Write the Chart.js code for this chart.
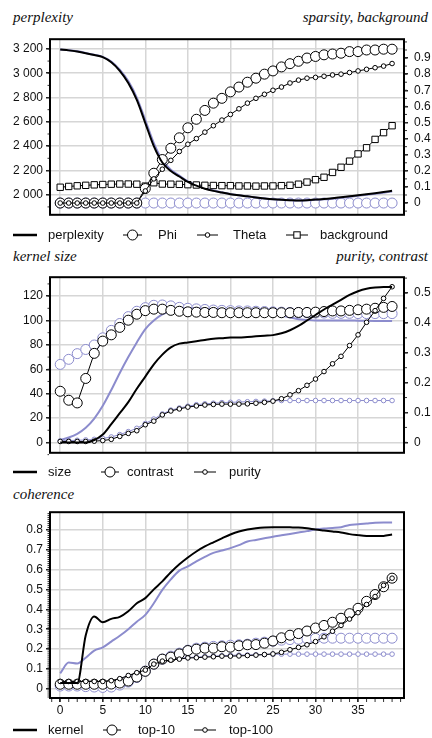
<!DOCTYPE html>
<html>
<head>
<meta charset="utf-8">
<script src="https://cdn.jsdelivr.net/npm/chart.js@4.4.0/dist/chart.umd.min.js"></script>
<style>
body { margin: 0; background: #fff; }
#page { position: relative; width: 432px; height: 738px; overflow: hidden; font-family: 'Liberation Sans', Arial, sans-serif; }
canvas { position: absolute; left: 0; }
.titre { position: absolute; font-family: 'Liberation Serif', 'Times New Roman', serif; font-style: italic; font-size: 15px; line-height: 15px; color: #111; white-space: nowrap; }
.leg { position: absolute; font-size: 13px; line-height: 14px; color: #111; white-space: nowrap; }
svg { position: absolute; overflow: visible; }
</style>
</head>
<body>
<div id="page">
  <canvas id="c1" width="432" height="202" style="top:26px"></canvas>
  <canvas id="c2" width="432" height="202" style="top:264px"></canvas>
  <canvas id="c3" width="432" height="222" style="top:502px"></canvas>
  <div class="titre" style="left:13px; top:9.5px">perplexity</div>
  <div class="titre" style="right:4px; top:9.5px">sparsity, background</div>
  <div class="titre" style="left:13px; top:249px">kernel size</div>
  <div class="titre" style="right:4px; top:249px">purity, contrast</div>
  <div class="titre" style="left:13px; top:486.5px">coherence</div>
</div>
<script>
// abscisses (itérations)
const pas = [0, 1, 2, 3, 4, 5, 6, 7, 8, 9, 10, 11, 12, 13, 14, 15, 16, 17, 18, 19,
             20, 21, 22, 23, 24, 25, 26, 27, 28, 29, 30, 31, 32, 33, 34, 35, 36, 37, 38, 39];
const ticksPas = [0, 5, 10, 15, 20, 25, 30, 35];

// panneau 1 : perplexity / sparsity, background
const perplexite = [3195, 3188, 3178, 3165, 3150, 3132, 3090, 3020, 2920, 2780,
                    2590, 2400, 2265, 2195, 2150, 2105, 2075, 2050, 2032, 2018,
                    2005, 1995, 1987, 1978, 1970, 1963, 1958, 1955, 1953, 1955,
                    1960, 1965, 1972, 1980, 1988, 1996, 2005, 2013, 2022, 2032];
const perplexiteRef = [3195, 3189, 3180, 3167, 3152, 3135, 3097, 3030, 2935, 2800,
                       2615, 2425, 2285, 2205, 2157, 2110, 2080, 2054, 2035, 2020,
                       2006, 1996, 1987, 1978, 1970, 1963, 1958, 1955, 1953, 1954,
                       1958, 1962, 1968, 1975, 1983, 1991, 2000, 2008, 2017, 2027];
const phi = [0, 0, 0, 0, 0, 0, 0, 0, 0, 0,
             0.09, 0.185, 0.27, 0.34, 0.405, 0.467, 0.52, 0.575, 0.62, 0.65,
             0.69, 0.72, 0.75, 0.775, 0.8, 0.82, 0.845, 0.865, 0.88, 0.9,
             0.91, 0.92, 0.925, 0.93, 0.94, 0.94, 0.95, 0.95, 0.955, 0.955];
const phiRef = [0, 0, 0, 0, 0, 0, 0, 0, 0, 0,
                0, 0, 0, 0, 0, 0, 0, 0, 0, 0,
                0, 0, 0, 0, 0, 0, 0, 0, 0, 0,
                0, 0, 0, 0, 0, 0, 0, 0, 0, 0];
const theta = [0, 0, 0, 0, 0, 0, 0, 0, 0, 0,
               0.075, 0.15, 0.21, 0.265, 0.32, 0.365, 0.4, 0.44, 0.48, 0.515,
               0.55, 0.585, 0.62, 0.65, 0.675, 0.7, 0.72, 0.745, 0.763, 0.775,
               0.78, 0.787, 0.795, 0.8, 0.81, 0.82, 0.83, 0.84, 0.85, 0.866];
const fond = [0.098, 0.103, 0.107, 0.11, 0.113, 0.115, 0.117, 0.118, 0.118, 0.117,
              0.105, 0.126, 0.118, 0.117, 0.116, 0.114, 0.112, 0.11, 0.109, 0.108,
              0.108, 0.106, 0.106, 0.105, 0.106, 0.106, 0.108, 0.11, 0.117, 0.13,
              0.145, 0.16, 0.19, 0.222, 0.26, 0.305, 0.343, 0.395, 0.437, 0.48];
const ticksPerplexite = [2000, 2200, 2400, 2600, 2800, 3000, 3200];
const ticksSparsite = [0, 0.1, 0.2, 0.3, 0.4, 0.5, 0.6, 0.7, 0.8, 0.9];

// panneau 2 : kernel size / purity, contrast
const taille = [0, 0, 0, 0, 2, 6.5, 15, 24, 33, 44,
                54, 64, 72, 78, 81, 82, 83, 84, 85, 85.5,
                86, 86, 86.5, 87, 87.5, 88, 89.5, 92, 95.5, 100,
                104.5, 109, 113, 117, 121, 124, 126, 127, 127.5, 127.5];
const tailleRef = [2, 4, 7, 12, 19.5, 30, 43, 57, 70, 82,
                   93, 100, 105, 108, 109.5, 110, 110, 109.5, 109.5, 109,
                   108.5, 108, 107, 106.5, 106, 105, 104, 102.5, 101, 100.5,
                   100, 100, 100, 100, 100, 99.8, 99.7, 99.6, 99.5, 99.5];
const contraste = [0.171, 0.141, 0.132, 0.214, 0.298, 0.339, 0.36, 0.385, 0.409, 0.429,
                   0.441, 0.446, 0.446, 0.442, 0.439, 0.437, 0.436, 0.435, 0.435, 0.434,
                   0.434, 0.434, 0.434, 0.434, 0.434, 0.434, 0.434, 0.434, 0.435, 0.435,
                   0.436, 0.438, 0.44, 0.44, 0.442, 0.444, 0.446, 0.449, 0.452, 0.455];
const contrasteRef = [0.261, 0.278, 0.297, 0.311, 0.326, 0.35, 0.375, 0.398, 0.421, 0.439,
                      0.451, 0.459, 0.46, 0.457, 0.452, 0.449, 0.447, 0.445, 0.443, 0.442,
                      0.441, 0.44, 0.44, 0.439, 0.438, 0.437, 0.436, 0.435, 0.434, 0.434,
                      0.433, 0.433, 0.432, 0.432, 0.432, 0.431, 0.431, 0.431, 0.431, 0.431];
const purete = [0.003, 0.003, 0.003, 0.003, 0.004, 0.006, 0.01, 0.02, 0.03, 0.039,
                0.059, 0.071, 0.092, 0.105, 0.112, 0.118, 0.122, 0.125, 0.127, 0.128,
                0.128, 0.128, 0.129, 0.131, 0.134, 0.138, 0.146, 0.159, 0.173, 0.191,
                0.212, 0.237, 0.263, 0.288, 0.324, 0.36, 0.402, 0.441, 0.482, 0.521];
const pureteRef = [0.005, 0.006, 0.007, 0.008, 0.01, 0.013, 0.018, 0.026, 0.036, 0.047,
                   0.063, 0.078, 0.095, 0.108, 0.115, 0.121, 0.126, 0.129, 0.131, 0.133,
                   0.134, 0.135, 0.136, 0.137, 0.138, 0.139, 0.14, 0.14, 0.14, 0.14,
                   0.14, 0.14, 0.14, 0.14, 0.14, 0.14, 0.14, 0.14, 0.14, 0.14];
const ticksTaille = [0, 20, 40, 60, 80, 100, 120];
const ticksPurete = [0, 0.1, 0.2, 0.3, 0.4, 0.5];

// panneau 3 : coherence
const noyau = [0.03, 0.03, 0.03, 0.27, 0.364, 0.335, 0.352, 0.362, 0.39, 0.43,
               0.456, 0.5, 0.54, 0.586, 0.626, 0.66, 0.69, 0.715, 0.736, 0.756,
               0.775, 0.79, 0.8, 0.806, 0.81, 0.812, 0.812, 0.811, 0.81, 0.806,
               0.8, 0.795, 0.79, 0.785, 0.777, 0.772, 0.768, 0.767, 0.768, 0.775];
const noyauRef = [0.079, 0.133, 0.128, 0.157, 0.193, 0.209, 0.238, 0.267, 0.3, 0.338,
                  0.372, 0.43, 0.497, 0.55, 0.594, 0.615, 0.64, 0.663, 0.683, 0.695,
                  0.707, 0.722, 0.74, 0.748, 0.756, 0.764, 0.771, 0.778, 0.785, 0.792,
                  0.8, 0.805, 0.808, 0.812, 0.823, 0.826, 0.83, 0.834, 0.835, 0.835];
const top10 = [0.024, 0.024, 0.024, 0.024, 0.024, 0.024, 0.025, 0.03, 0.04, 0.06,
               0.089, 0.125, 0.15, 0.16, 0.176, 0.193, 0.2, 0.205, 0.205, 0.212,
               0.21, 0.217, 0.222, 0.223, 0.23, 0.241, 0.257, 0.27, 0.278, 0.291,
               0.306, 0.319, 0.335, 0.355, 0.378, 0.405, 0.44, 0.474, 0.513, 0.556];
const top10Ref = [0.015, 0.015, 0.015, 0.012, 0.01, 0.008, 0.01, 0.02, 0.035, 0.058,
                  0.09, 0.125, 0.15, 0.165, 0.18, 0.195, 0.205, 0.21, 0.214, 0.217,
                  0.22, 0.222, 0.225, 0.23, 0.235, 0.24, 0.245, 0.248, 0.25, 0.252,
                  0.254, 0.255, 0.255, 0.255, 0.255, 0.255, 0.255, 0.255, 0.255, 0.255];
const top100 = [0.038, 0.038, 0.038, 0.038, 0.038, 0.038, 0.042, 0.052, 0.068, 0.082,
                0.095, 0.125, 0.14, 0.145, 0.15, 0.156, 0.157, 0.16, 0.162, 0.165,
                0.165, 0.166, 0.168, 0.17, 0.173, 0.176, 0.184, 0.197, 0.209, 0.222,
                0.238, 0.262, 0.29, 0.319, 0.351, 0.383, 0.424, 0.464, 0.52, 0.556];
const top100Ref = [0.036, 0.036, 0.036, 0.036, 0.036, 0.037, 0.04, 0.05, 0.066, 0.08,
                   0.095, 0.125, 0.14, 0.148, 0.153, 0.158, 0.16, 0.163, 0.165, 0.167,
                   0.169, 0.17, 0.171, 0.172, 0.173, 0.175, 0.175, 0.175, 0.175, 0.175,
                   0.175, 0.175, 0.175, 0.175, 0.175, 0.175, 0.175, 0.175, 0.175, 0.175];
const ticksCoherence = [0, 0.1, 0.2, 0.3, 0.4, 0.5, 0.6, 0.7, 0.8];

const NOIR = '#000';
const VIOLET = 'rgb(140,140,205)';
const GRILLE = '#d6d6d6';
const POLICE = { family: "'Liberation Sans', Arial, sans-serif", size: 12 };

function points(valeurs) {
    return pas.map((x, i) => ({ x: x, y: valeurs[i] }));
}

function serieLigne(valeurs, couleur, axe, ordre) {
    return {
        data: points(valeurs), yAxisID: axe, order: ordre,
        borderColor: couleur, borderWidth: 2, pointRadius: 0,
        cubicInterpolationMode: 'monotone', fill: false
    };
}

function serieMarque(valeurs, couleur, axe, style, rayon, ordre) {
    return {
        data: points(valeurs), yAxisID: axe, order: ordre,
        borderColor: couleur, borderWidth: 1, fill: false,
        pointStyle: style, pointRadius: rayon,
        pointBorderColor: couleur, pointBackgroundColor: '#fff', pointBorderWidth: 1
    };
}

function milliers(v) {
    return String(v).replace(/\B(?=(\d{3})+$)/g, ' ');
}

function axeX(etiquettes) {
    return {
        type: 'linear', min: -1.2, max: 40.4,
        afterBuildTicks: a => { a.ticks = ticksPas.map(v => ({ value: v })); },
        afterFit: a => { a.height = etiquettes ? 26 : 5; },
        grid: { color: GRILLE, lineWidth: 1.5, drawTicks: etiquettes, tickLength: 4, tickColor: '#222' },
        border: { display: false },
        ticks: { display: etiquettes, padding: 1, font: POLICE, color: '#111', maxRotation: 0 }
    };
}

function axeY(position, min, max, valeurs, format) {
    const gauche = position === 'left';
    return {
        type: 'linear', position: position, min: min, max: max,
        afterBuildTicks: a => { a.ticks = valeurs.map(v => ({ value: v })); },
        afterFit: a => { a.width = gauche ? 50 : 28; },
        grid: { color: GRILLE, lineWidth: 1.5, drawOnChartArea: gauche, tickLength: 4, tickColor: '#222' },
        border: { display: false },
        ticks: { padding: gauche ? 3 : 6, font: POLICE, color: '#111', callback: format || (v => String(v)) }
    };
}

// petites graduations et cadre
const petitesGraduations = {
    id: 'petitesGraduations',
    afterDraw(chart, args, opts) {
        const ctx = chart.ctx;
        const zone = chart.chartArea;
        ctx.save();
        ctx.fillStyle = '#333';
        (opts.liste || []).forEach(g => {
            const s = chart.scales[g.axe];
            const n = Math.round((g.fin - g.debut) / g.pas);
            for (let k = 0; k <= n; k++) {
                const p = s.getPixelForValue(g.debut + k * g.pas);
                if (g.axe === 'x') ctx.fillRect(p - 0.5, zone.bottom + 1, 1, g.long);
                else if (s.position === 'left') ctx.fillRect(zone.left - 1 - g.long, p - 0.5, g.long, 1);
                else ctx.fillRect(zone.right + 1, p - 0.5, g.long, 1);
            }
        });
        ctx.restore();
    }
};

const cadre = {
    id: 'cadre',
    afterDatasetsDraw(chart) {
        const { left, top, right, bottom } = chart.chartArea;
        const ctx = chart.ctx;
        ctx.save();
        ctx.strokeStyle = '#000';
        ctx.lineWidth = 2;
        ctx.strokeRect(left, top, right - left, bottom - top);
        ctx.restore();
    }
};

Chart.register(petitesGraduations, cadre);

function options(scales, graduations, droite) {
    return {
        responsive: false, animation: false, devicePixelRatio: 1,
        layout: { autoPadding: false, padding: { top: 4, left: 0, right: droite, bottom: 0 } },
        plugins: { legend: { display: false }, tooltip: { enabled: false }, petitesGraduations: { liste: graduations } },
        scales: scales
    };
}

new Chart(document.getElementById('c1'), {
    type: 'line',
    data: {
        datasets: [
            serieLigne(perplexite, NOIR, 'y', 0),
            serieMarque(theta, NOIR, 'y1', 'circle', 2.3, 1),
            serieMarque(phi, NOIR, 'y1', 'circle', 5, 2),
            serieMarque(fond, NOIR, 'y1', 'rect', 4.5, 3),
            serieLigne(perplexiteRef, VIOLET, 'y', 10),
            serieMarque(phiRef, VIOLET, 'y1', 'circle', 5, 11)
        ]
    },
    options: options({
        x: axeX(false),
        y: axeY('left', 1835, 3280, ticksPerplexite, milliers),
        y1: axeY('right', -0.073, 1.017, ticksSparsite)
    }, [
        { axe: 'y', debut: 1900, fin: 3200, pas: 100, long: 1.5 },
        { axe: 'y1', debut: -0.05, fin: 1, pas: 0.05, long: 2 }
    ], 0)
});

new Chart(document.getElementById('c2'), {
    type: 'line',
    data: {
        datasets: [
            serieLigne(taille, NOIR, 'y', 0),
            serieMarque(purete, NOIR, 'y1', 'circle', 2.3, 1),
            serieMarque(contraste, NOIR, 'y1', 'circle', 5, 2),
            serieLigne(tailleRef, VIOLET, 'y', 10),
            serieMarque(pureteRef, VIOLET, 'y1', 'circle', 2.3, 11),
            serieMarque(contrasteRef, VIOLET, 'y1', 'circle', 5, 12)
        ]
    },
    options: options({
        x: axeX(false),
        y: axeY('left', -8.5, 135.5, ticksTaille),
        y1: axeY('right', -0.035, 0.553, ticksPurete)
    }, [
        { axe: 'y', debut: -10, fin: 130, pas: 10, long: 1.5 },
        { axe: 'y1', debut: 0, fin: 0.55, pas: 0.05, long: 2 }
    ], 0)
});

new Chart(document.getElementById('c3'), {
    type: 'line',
    data: {
        datasets: [
            serieLigne(noyau, NOIR, 'y', 0),
            serieMarque(top100, NOIR, 'y', 'circle', 2.3, 1),
            serieMarque(top10, NOIR, 'y', 'circle', 5, 2),
            serieLigne(noyauRef, VIOLET, 'y', 10),
            serieMarque(top100Ref, VIOLET, 'y', 'circle', 2.3, 11),
            serieMarque(top10Ref, VIOLET, 'y', 'circle', 5, 12)
        ]
    },
    options: options({
        x: axeX(true),
        y: axeY('left', -0.045, 0.887, ticksCoherence)
    }, [
        { axe: 'y', debut: -0.04, fin: 0.88, pas: 0.01, long: 1.5 },
        { axe: 'x', debut: -1, fin: 40, pas: 1, long: 3 }
    ], 28)
});

// légendes
const legende1 = [['ligne', 13, 24, 48, 'perplexity'], ['grand', 123, 19, 158, 'Phi'],
                  ['petit', 197, 21, 233, 'Theta'], ['carre', 286, 22, 320, 'background']];
const legende2 = [['ligne', 13, 24, 48, 'size'], ['grand', 101, 18, 127, 'contrast'],
                  ['petit', 194, 22, 229, 'purity']];
const legende3 = [['ligne', 13, 24, 48, 'kernel'], ['grand', 103, 18, 138, 'top-10'],
                  ['petit', 194, 22, 229, 'top-100']];

function ajouterLegende(items, yLigne) {
    const page = document.getElementById('page');
    const ns = 'http://www.w3.org/2000/svg';
    items.forEach(([type, x, w, tx, texte]) => {
        const svg = document.createElementNS(ns, 'svg');
        svg.setAttribute('width', w);
        svg.setAttribute('height', 14);
        svg.style.left = x + 'px';
        svg.style.top = (yLigne - 7) + 'px';
        let html = `<line x1="0" y1="7" x2="${w}" y2="7" stroke="#000" stroke-width="${type === 'ligne' ? 2.5 : 1}"/>`;
        if (type === 'grand') html += `<circle cx="${w / 2}" cy="7" r="5" fill="#fff" stroke="#000"/>`;
        if (type === 'petit') html += `<circle cx="${w / 2}" cy="7" r="2.3" fill="#fff" stroke="#000"/>`;
        if (type === 'carre') html += `<rect x="${w / 2 - 3.2}" y="3.8" width="6.4" height="6.4" fill="#fff" stroke="#000"/>`;
        svg.innerHTML = html;
        page.appendChild(svg);
        const div = document.createElement('div');
        div.className = 'leg';
        div.style.left = tx + 'px';
        div.style.top = (yLigne - 7) + 'px';
        div.textContent = texte;
        page.appendChild(div);
    });
}

ajouterLegende(legende1, 235);
ajouterLegende(legende2, 471.7);
ajouterLegende(legende3, 730);
</script>
</body>
</html>
